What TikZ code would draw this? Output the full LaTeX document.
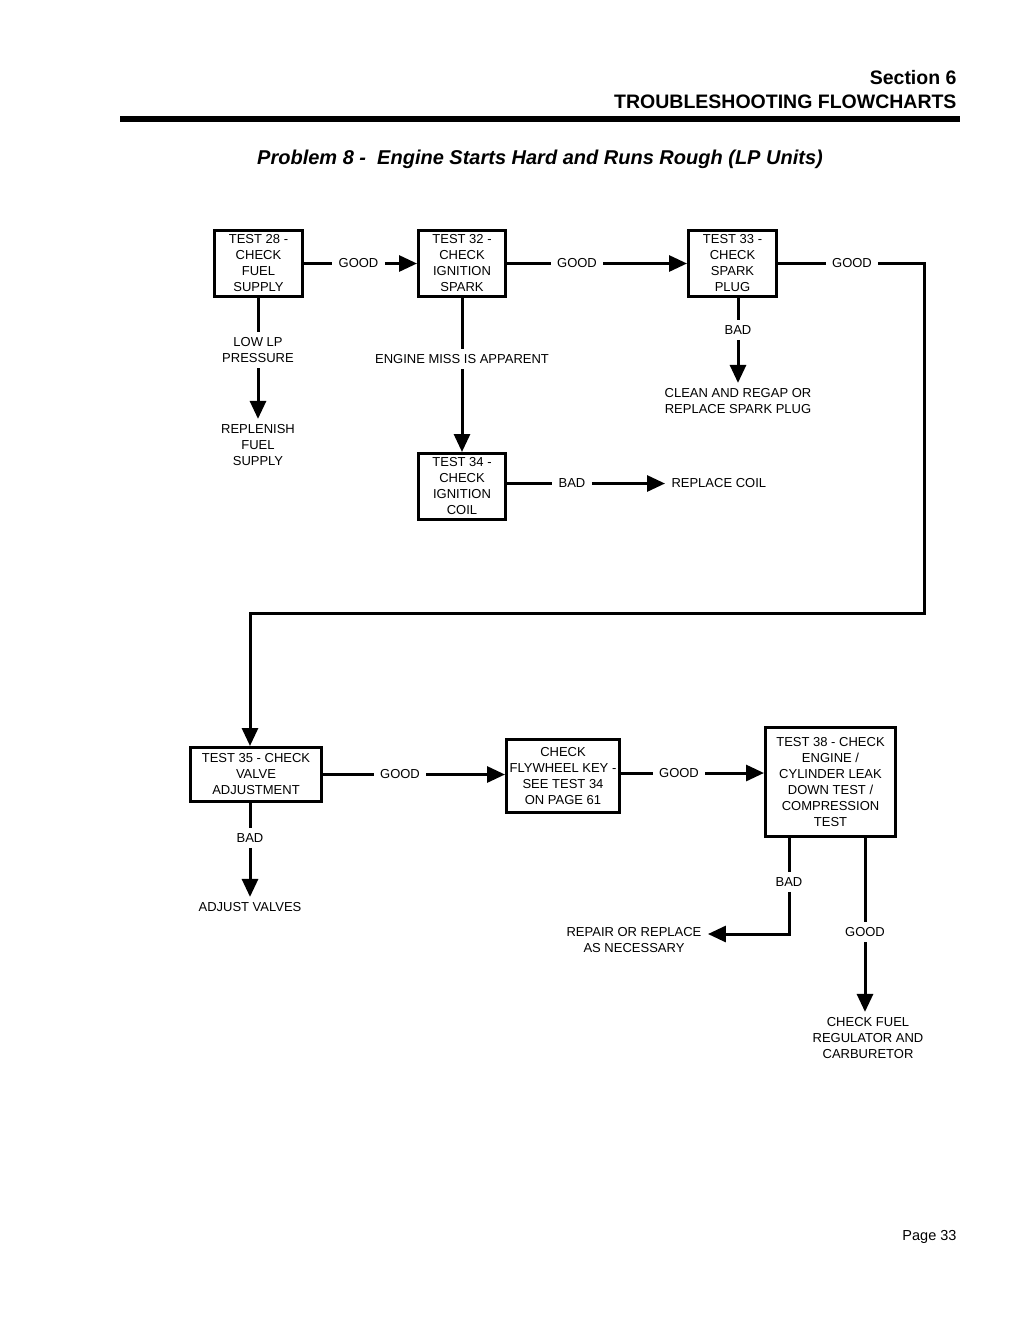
\documentclass[tikz,border=0pt]{standalone}
\usepackage{fontspec}
\setmainfont{Liberation Sans}
\usetikzlibrary{arrows.meta}
\tikzset{
    testbox/.style={draw, rectangle, line width=3pt, align=center, inner sep=1pt},
    answer/.style={align=center, inner xsep=5pt, inner ysep=4pt},
}
\begin{document}
\begin{tikzpicture}[x=1pt, y=-1pt, line width=3pt,
    font=\fontsize{13}{16}\selectfont,
    >={Triangle[length=18pt, width=16pt]}]
    \useasboundingbox (0, 0) rectangle (1020, 1320);

    % Page header
    \node[anchor=east, align=right, inner sep=0pt, font=\fontsize{19.5}{24}\selectfont\bfseries] (head) at (958, 90) {Section 6\\TROUBLESHOOTING FLOWCHARTS};
    \draw[line width=6pt] (120, 119) -- (960, 119);
    \node[font=\fontsize{20}{24}\selectfont\bfseries\itshape] (title) at (540, 159) {Problem 8 -\ \ Engine Starts Hard and Runs Rough (LP Units)};
    \node[anchor=east, inner sep=0pt, font=\fontsize{14.5}{18}\selectfont] (page) at (958, 1237) {Page 33};

    % Nodes
    \node[testbox, minimum width=88, minimum height=66] (T28) at (258.5, 263.5) {TEST 28 -\\CHECK\\FUEL\\SUPPLY};
    \node[testbox, minimum width=87, minimum height=66] (T32) at (462, 263.5) {TEST 32 -\\CHECK\\IGNITION\\SPARK};
    \node[testbox, minimum width=88, minimum height=66] (T33) at (732.5, 263.5) {TEST 33 -\\CHECK\\SPARK\\PLUG};
    \node[testbox, minimum width=87, minimum height=66] (T34) at (462, 486.5) {TEST 34 -\\CHECK\\IGNITION\\COIL};
    \node[testbox, minimum width=131, minimum height=54] (T35) at (256, 774.5) {TEST 35 - CHECK\\VALVE\\ADJUSTMENT};
    \node[testbox, minimum width=113, minimum height=73] (FW) at (563, 776) {CHECK\\FLYWHEEL KEY -\\SEE TEST 34\\ON PAGE 61};
    \node[testbox, minimum width=130, minimum height=109] (T38) at (830.5, 782) {TEST 38 - CHECK\\ENGINE /\\CYLINDER LEAK\\DOWN TEST /\\COMPRESSION\\TEST};

    \node[answer] (good1) at (358.5, 263.5) {GOOD};
    \node[answer] (good2) at (577, 263.5) {GOOD};
    \node[answer] (good3) at (852, 263.5) {GOOD};
    \node[answer] (lowlp) at (258, 350) {LOW LP\\PRESSURE};
    \node[answer] (replenish) at (258, 445) {REPLENISH\\FUEL\\SUPPLY};
    \node[answer] (miss) at (462, 359) {ENGINE MISS IS APPARENT};
    \node[answer] (bad1) at (738, 330) {BAD};
    \node[answer] (clean) at (738, 401) {CLEAN AND REGAP OR\\REPLACE SPARK PLUG};
    \node[answer] (bad2) at (572, 483.5) {BAD};
    \node[answer, anchor=west] (coil) at (665, 483.5) {REPLACE COIL};
    \node[answer] (bad3) at (250, 838) {BAD};
    \node[answer] (adjust) at (250, 907) {ADJUST VALVES};
    \node[answer] (good4) at (400, 774.5) {GOOD};
    \node[answer] (good5) at (679, 773) {GOOD};
    \node[answer] (bad4) at (789, 882) {BAD};
    \node[answer] (repair) at (634, 940) {REPAIR OR REPLACE\\AS NECESSARY};
    \node[answer] (good6) at (865, 932) {GOOD};
    \node[answer] (fuelreg) at (868, 1038) {CHECK FUEL\\REGULATOR AND\\CARBURETOR};

    \coordinate (turn1) at (924, 613);
    \coordinate (turn2) at (250, 613);

    % Edges
    \draw (T28) -- (good1);
    \draw[->] (good1) -- (T32);
    \draw (T32) -- (good2);
    \draw[->] (good2) -- (T33);
    \draw (T33) -- (good3);
    \draw[->] (good3) -| (turn1) -- (turn2) -- (T35.north -| turn2);
    \draw (T28.south -| lowlp) -- (lowlp);
    \draw[->] (lowlp) -- (replenish);
    \draw (T32) -- (miss);
    \draw[->] (miss) -- (T34);
    \draw (T33.south -| bad1) -- (bad1);
    \draw[->] (bad1) -- (clean);
    \draw (T34.east |- bad2) -- (bad2);
    \draw[->] (bad2) -- (coil);
    \draw (T35.south -| bad3) -- (bad3);
    \draw[->] (bad3) -- (adjust);
    \draw (T35) -- (good4);
    \draw[->] (good4) -- (FW.west |- good4);
    \draw (FW.east |- good5) -- (good5);
    \draw[->] (good5) -- (T38.west |- good5);
    \draw (T38.south -| bad4) -- (bad4);
    \draw[->] (bad4) |- ([yshift=6pt]repair.east);
    \draw (T38.south -| good6) -- (good6);
    \draw[->] (good6) -- (good6 |- fuelreg.north);
\end{tikzpicture}
\end{document}
